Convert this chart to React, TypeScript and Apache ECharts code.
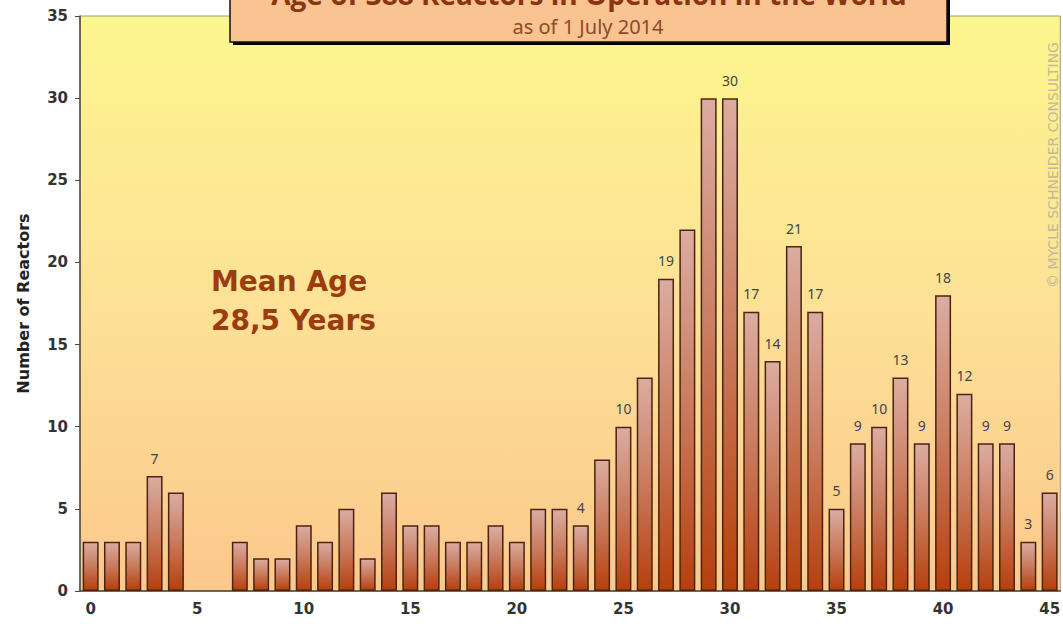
import React, { useEffect, useRef } from "react";
import * as echarts from "echarts";

const ages: string[] = Array.from({ length: 46 }, (_, i) => String(i));
const reactors: number[] = [
  3, 3, 3, 7, 6, 0, 0, 3, 2, 2, 4, 3, 5, 2, 6, 4, 4, 3, 3, 4, 3, 5, 5, 4, 8,
  10, 13, 19, 22, 30, 30, 17, 14, 21, 17, 5, 9, 10, 13, 9, 18, 12, 9, 9, 3, 6,
];
const labeledAges: number[] = [3, 23, 25, 27, 30, 31, 32, 33, 34, 35, 36, 37, 38, 39, 40, 41, 42, 43, 44, 45];
const yTicks = { min: 0, max: 35, interval: 5 };
const titleText = "Age of 388 Reactors in Operation in the World";
const subtitleText = "as of 1 July 2014";
const meanAgeLines = ["Mean Age", "28,5 Years"];
const yAxisName = "Number of Reactors";
const copyrightText = "© MYCLE SCHNEIDER CONSULTING";

export default function App() {
  const ref = useRef<HTMLDivElement>(null);
  useEffect(() => {
    if (!ref.current) return;
    const chart = echarts.init(ref.current, undefined, { renderer: "svg" });
    const barGradient = new echarts.graphic.LinearGradient(0, 0, 0, 1, [
      { offset: 0, color: "#dcaca2" },
      { offset: 0.5, color: "#c97a5c" },
      { offset: 1, color: "#b63f0c" },
    ]);
    const data = reactors.map((v, i) => ({
      value: v,
      label: { show: labeledAges.includes(i) },
      itemStyle: v === 0 ? { borderWidth: 0, opacity: 0 } : undefined,
    }));
    chart.setOption({
      animation: false,
      backgroundColor: "#ffffff",
      grid: {
        left: 80,
        right: -4,
        top: 16,
        bottom: 33,
        show: true,
        borderColor: "#9a9a8a",
        borderWidth: 1,
        backgroundColor: new echarts.graphic.LinearGradient(0, 0, 0, 1, [
          { offset: 0, color: "#fdf68e" },
          { offset: 0.5, color: "#fde196" },
          { offset: 1, color: "#fcc88c" },
        ]),
      },
      xAxis: {
        type: "category",
        data: ages,
        boundaryGap: true,
        axisLine: { lineStyle: { color: "#4a4a3a", width: 1.5 } },
        axisTick: { interval: 0, length: 4, lineStyle: { color: "#4a4a3a" } },
        axisLabel: {
          interval: 4,
          color: "#333",
          fontWeight: "bold",
          fontSize: 15,
          fontFamily: "DejaVu Sans",
          margin: 10,
        },
      },
      yAxis: {
        type: "value",
        min: yTicks.min,
        max: yTicks.max,
        interval: yTicks.interval,
        name: yAxisName,
        nameLocation: "middle",
        nameRotate: 90,
        nameGap: 49,
        nameTextStyle: { color: "#222", fontWeight: "bold", fontSize: 16, fontFamily: "DejaVu Sans" },
        splitLine: { show: false },
        axisLine: { show: true, lineStyle: { color: "#4a4a3a", width: 1.5 } },
        axisTick: { show: true, length: 5, lineStyle: { color: "#4a4a3a" } },
        axisLabel: {
          color: "#333",
          fontWeight: "bold",
          fontSize: 15,
          fontFamily: "DejaVu Sans",
          margin: 12,
        },
      },
      series: [
        {
          type: "bar",
          data,
          barCategoryGap: "25%",
          itemStyle: { color: barGradient, borderColor: "#4a2410", borderWidth: 1.5 },
          label: {
            position: "top",
            distance: 11,
            color: "#444",
            fontSize: 14,
            fontFamily: "Noto Sans",
          },
        },
      ],
      graphic: [
        {
          type: "rect",
          z: 100,
          shape: { x: 233, y: -12, width: 717, height: 57 },
          style: { fill: "#000" },
        },
        {
          type: "rect",
          z: 101,
          shape: { x: 230, y: -15, width: 717, height: 57 },
          style: { fill: "#f9c392", stroke: "#111", lineWidth: 1.5 },
        },
        {
          type: "text",
          z: 102,
          x: 589,
          y: -6,
          style: {
            text: titleText,
            fill: "#8a3410",
            font: "bold 28px 'Open Sans'",
            textAlign: "center",
            textVerticalAlign: "middle",
          },
        },
        {
          type: "text",
          z: 102,
          x: 588,
          y: 26,
          style: {
            text: subtitleText,
            fill: "#8c4a2a",
            font: "20px 'Noto Sans'",
            textAlign: "center",
            textVerticalAlign: "middle",
          },
        },
        {
          type: "text",
          z: 50,
          x: 211,
          y: 262,
          style: {
            text: meanAgeLines.join("\n"),
            fill: "#9c3c0e",
            font: "bold 28px 'DejaVu Sans'",
            lineHeight: 39,
          },
        },
        {
          type: "text",
          z: 50,
          x: 1053,
          y: 165,
          rotation: Math.PI / 2,
          style: {
            text: copyrightText,
            fill: "#c4b898",
            font: "14px 'DejaVu Sans'",
            textAlign: "center",
            textVerticalAlign: "middle",
          },
        },
      ],
    });
    return () => chart.dispose();
  }, []);
  return (
    <div
      ref={ref}
      style={{ position: "fixed", left: 0, top: 0, width: 1063, height: 624 }}
    />
  );
}
